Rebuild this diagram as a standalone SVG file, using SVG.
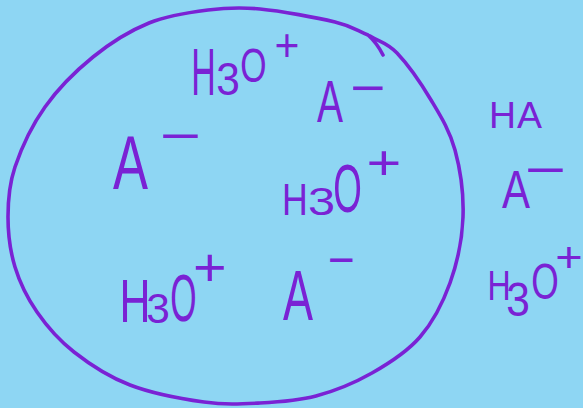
<svg xmlns="http://www.w3.org/2000/svg" width="583" height="408" viewBox="0 0 583 408">
<style>
.bg{fill:#8ed6f3}
.ink{fill:#7a22d4;font-family:"Liberation Sans",Arial,sans-serif}
.line{fill:none;stroke:#7a22d4;stroke-width:3.6;stroke-linecap:round;stroke-linejoin:round}
</style>
<rect class="bg" x="0" y="0" width="583" height="408"/>
<g id="boundary">
<path class="line" d="M370,36 C379,41.7 386.8,42.3 397,53 C407.2,63.7 421.3,83.8 431,100 C440.7,116.2 449.7,130.5 455,150 C460.3,169.5 463.8,194.8 463,217 C462.2,239.2 457.2,263 450,283 C442.8,303 433,322 420,337 C407,352 389.3,363.2 372,373 C354.7,382.8 334.7,391 316,396 C297.3,401 278.7,402 260,403 C241.3,404 225.7,405 204,402 C182.3,399 151.7,393.3 130,385 C108.3,376.7 89.5,364.2 74,352 C58.5,339.8 46.8,326.2 37,312 C27.2,297.8 19.8,282.8 15,267 C10.2,251.2 8,233.7 8,217 C8,200.3 8.8,185.3 15,167 C21.2,148.7 32,125.3 45,107 C58,88.7 75.7,71 93,57 C110.3,43 129.8,30.8 149,23 C168.2,15.2 189.5,12.3 208,10 C226.5,7.7 238.8,7 260,9 C281.2,11 317,17.7 335,22 C353,26.3 357,30.7 368,35 Q377,43 383,55"/>
</g>
<g id="h3o-top" class="ink">
<text><tspan x="191.3" y="95" font-size="67" textLength="24.5" lengthAdjust="spacingAndGlyphs">H</tspan><tspan x="216.3" y="94.5" font-size="46" textLength="23.6" lengthAdjust="spacingAndGlyphs">3</tspan><tspan x="240.3" y="82.4" font-size="48.6" textLength="26.3" lengthAdjust="spacingAndGlyphs">O</tspan><tspan x="274.6" y="60.5" font-size="46.9" textLength="24.9" lengthAdjust="spacingAndGlyphs">+</tspan></text>
</g>
<g id="a-left" class="ink">
<text><tspan x="113" y="189" font-size="75.4" textLength="35" lengthAdjust="spacingAndGlyphs">A</tspan><tspan x="159.5" y="153" font-size="50" textLength="41.4" lengthAdjust="spacingAndGlyphs">−</tspan></text>
</g>
<g id="a-upper" class="ink">
<text><tspan x="317" y="122" font-size="58.7" textLength="26" lengthAdjust="spacingAndGlyphs">A</tspan><tspan x="350" y="104.5" font-size="50" textLength="35.3" lengthAdjust="spacingAndGlyphs">−</tspan></text>
</g>
<g id="h3o-middle" class="ink">
<text><tspan x="282.1" y="215" font-size="44.7" textLength="25.8" lengthAdjust="spacingAndGlyphs">H</tspan><tspan x="308" y="214.5" font-size="38.9" textLength="27.1" lengthAdjust="spacingAndGlyphs">3</tspan><tspan x="333.2" y="212.2" font-size="67.6" textLength="28.6" lengthAdjust="spacingAndGlyphs">O</tspan><tspan x="366.6" y="178.7" font-size="49" textLength="34.8" lengthAdjust="spacingAndGlyphs">+</tspan></text>
</g>
<g id="h3o-bottom" class="ink">
<text><tspan x="119.6" y="322" font-size="61.5" textLength="31" lengthAdjust="spacingAndGlyphs">H</tspan><tspan x="146.3" y="322.5" font-size="41.7" textLength="23.6" lengthAdjust="spacingAndGlyphs">3</tspan><tspan x="170.3" y="321.2" font-size="66.2" textLength="26.3" lengthAdjust="spacingAndGlyphs">O</tspan><tspan x="193" y="286.2" font-size="53.3" textLength="33.6" lengthAdjust="spacingAndGlyphs">+</tspan></text>
</g>
<g id="a-bottom" class="ink">
<text><tspan x="283" y="320" font-size="69.8" textLength="30" lengthAdjust="spacingAndGlyphs">A</tspan><tspan x="327.7" y="277" font-size="50" textLength="26.8" lengthAdjust="spacingAndGlyphs">−</tspan></text>
</g>
<g id="ha-right" class="ink">
<text><tspan x="489" y="128" font-size="36.3" textLength="27" lengthAdjust="spacingAndGlyphs">H</tspan><tspan x="517" y="128" font-size="36.3" textLength="25" lengthAdjust="spacingAndGlyphs">A</tspan></text>
</g>
<g id="a-right" class="ink">
<text><tspan x="502" y="208" font-size="53" textLength="28" lengthAdjust="spacingAndGlyphs">A</tspan><tspan x="524.5" y="186.5" font-size="50" textLength="41.4" lengthAdjust="spacingAndGlyphs">−</tspan></text>
</g>
<g id="h3o-right" class="ink">
<text><tspan x="487.4" y="300" font-size="41.9" textLength="23.2" lengthAdjust="spacingAndGlyphs">H</tspan><tspan x="506.3" y="316.4" font-size="47.2" textLength="23.6" lengthAdjust="spacingAndGlyphs">3</tspan><tspan x="531.2" y="299.4" font-size="50" textLength="27.5" lengthAdjust="spacingAndGlyphs">O</tspan><tspan x="555.3" y="272" font-size="42.6" textLength="27.4" lengthAdjust="spacingAndGlyphs">+</tspan></text>
</g>
</svg>
